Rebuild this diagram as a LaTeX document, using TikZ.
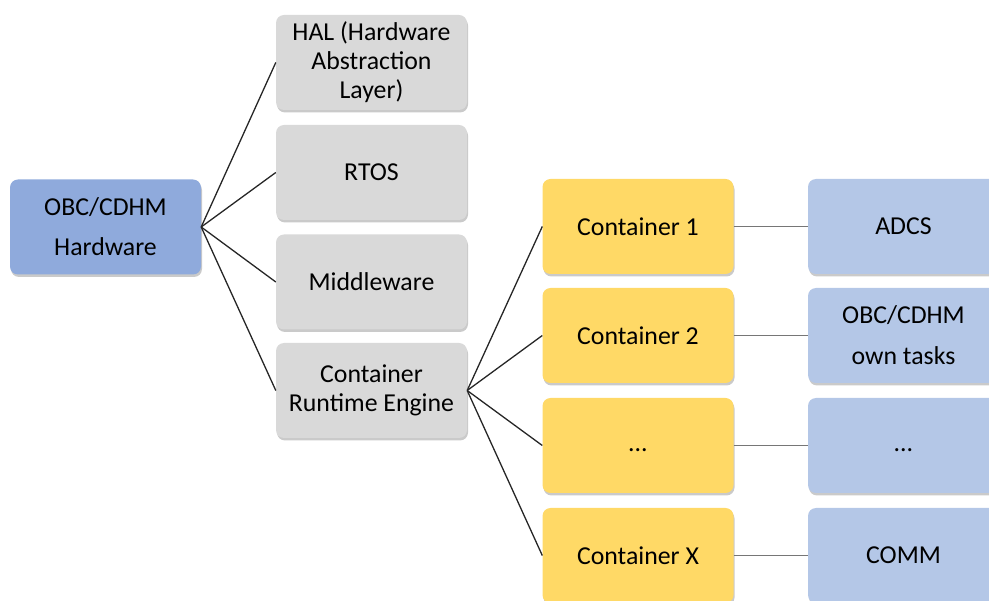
\documentclass[tikz,border=0pt]{standalone}
\usepackage{fontspec}
\setmainfont{Carlito}
\usetikzlibrary{shadows}
\definecolor{hwblue}{HTML}{8FAADC}
\definecolor{swgray}{HTML}{D9D9D9}
\definecolor{contyellow}{HTML}{FFD966}
\definecolor{taskblue}{HTML}{B4C7E7}
\definecolor{linkgray}{HTML}{767676}
\tikzset{
  box/.style={draw=none, rounded corners=8pt, minimum width=191pt, minimum height=95pt,
    inner sep=0pt, align=center, text=black,
    font=\fontsize{25.8}{29}\selectfont,
    drop shadow={shadow xshift=1pt, shadow yshift=-2.5pt, opacity=0.35, fill=black!60}},
  hwbox/.style={box, fill=hwblue, font=\fontsize{25.8}{40}\selectfont},
  swbox/.style={box, fill=swgray},
  contbox/.style={box, fill=contyellow},
  taskbox/.style={box, fill=taskblue, font=\fontsize{25.8}{41}\selectfont},
  fan/.style={draw=black!85, line width=1.3pt},
  link/.style={draw=linkgray, line width=1.6pt}
}
\begin{document}
\begin{tikzpicture}[x=1pt,y=-1pt]
\useasboundingbox (0,0) rectangle (989,601);
\clip (0,0) rectangle (989,601);

% hardware root
\node[hwbox] (hw) at (105.5,227) {OBC/CDHM\\Hardware};

% software stack
\node[swbox] (hal) at (371.5,62.5) {HAL (Hardware\\Abstraction\\Layer)};
\node[swbox] (rtos) at (371.5,172.5) {RTOS};
\node[swbox] (mw) at (371.5,282) {Middleware};
\node[swbox] (cre) at (371.5,390.5) {Container\\Runtime Engine};

% containers
\node[contbox] (c1) at (638,226.5) {Container 1};
\node[contbox] (c2) at (638,335.5) {Container 2};
\node[contbox] (c3) at (638,445.5) {\vphantom{Cg}...};
\node[contbox] (cx) at (638,555.5) {Container X};

% tasks
\node[taskbox] (t1) at (903.5,226.5) {ADCS};
\node[taskbox] (t2) at (903.5,335.5) {OBC/CDHM\\own tasks};
\node[taskbox] (t3) at (903.5,445.5) {\vphantom{Cg}...};
\node[taskbox] (tx) at (903.5,555.5) {COMM};

% fan-out from hardware
\foreach \n in {hal,rtos,mw,cre} \draw[fan] (hw.east) -- (\n.west);
% fan-out from container runtime
\foreach \n in {c1,c2,c3,cx} \draw[fan] (cre.east) -- (\n.west);
% container to task links
\draw[link] (c1.east) -- (t1.west);
\draw[link] (c2.east) -- (t2.west);
\draw[link] (c3.east) -- (t3.west);
\draw[link] (cx.east) -- (tx.west);
\end{tikzpicture}
\end{document}
